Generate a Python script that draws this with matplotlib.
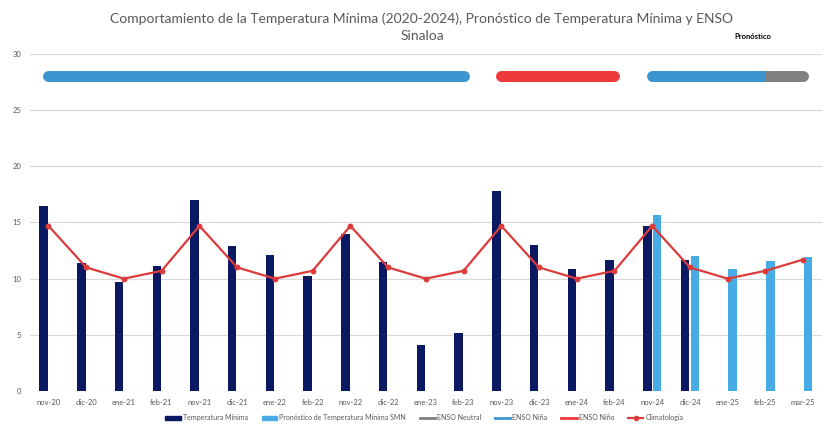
import matplotlib
matplotlib.use("Agg")
import matplotlib.pyplot as plt
from matplotlib.lines import Line2D
from matplotlib.patches import Patch
import numpy as np

months = ["nov-20", "dic-20", "ene-21", "feb-21", "nov-21", "dic-21", "ene-22", "feb-22",
          "nov-22", "dic-22", "ene-23", "feb-23", "nov-23", "dic-23", "ene-24", "feb-24",
          "nov-24", "dic-24", "ene-25", "feb-25", "mar-25"]
# observed minimum temperature (None = no data)
tmin = [16.5, 11.4, 9.7, 11.1, 17.0, 12.9, 12.1, 10.2, 14.0, 11.5, 4.1, 5.2,
        17.8, 13.0, 10.9, 11.7, 14.7, 11.7, None, None, None]
# SMN forecast
forecast = [None] * 16 + [15.7, 12.0, 10.9, 11.6, 11.9]
climatology = [14.7, 11.0, 10.0, 10.7, 14.7, 11.0, 10.0, 10.7, 14.7, 11.0, 10.0, 10.7,
               14.7, 11.0, 10.0, 10.7, 14.7, 11.0, 10.0, 10.7, 11.7]
# ENSO phases as (start index, end index)
enso_nina = [(0, 11)]
enso_nino = [(12, 15)]
enso_nina_fc = (16, 19)
enso_neutral_fc = (19, 20)
enso_level = 28

NAVY = "#0b1862"
LIGHT = "#47ace6"
RED = "#dc3b3b"
NINA = "#3d95cf"
NINO = "#ec3a3a"
NEUTRAL = "#808080"
GRID = "#d9d9d9"
TXT = "#595959"

plt.rcParams["font.family"] = ["Lato", "DejaVu Sans"]

fig = plt.figure(figsize=(8.29, 4.34), dpi=100)
ax = fig.add_axes([0.0357, 0.0991, 0.9559, 0.7765])

x = np.arange(len(months))
w = 0.225
off = 0.13

# grouped bars: observed on the left, forecast on the right
for i in x:
    if tmin[i] is not None:
        ax.bar(i - off, tmin[i], width=w, color=NAVY, zorder=3)
    if forecast[i] is not None:
        ax.bar(i + off, forecast[i], width=w, color=LIGHT, zorder=3)

ax.plot(x, climatology, color=RED, lw=1.6, marker="o", ms=3.2, zorder=4)

lw_enso = 7.9
for s, e in enso_nina:
    ax.plot([s, e], [enso_level] * 2, color=NINA, lw=lw_enso, solid_capstyle="round", zorder=4)
for s, e in enso_nino:
    ax.plot([s, e], [enso_level] * 2, color=NINO, lw=lw_enso, solid_capstyle="round", zorder=4)
# forecast bar: Niña then Neutral, joined
ax.plot(enso_neutral_fc, [enso_level] * 2, color=NEUTRAL, lw=lw_enso,
        solid_capstyle="round", zorder=3)
ax.plot(enso_nina_fc, [enso_level] * 2, color=NINA, lw=lw_enso,
        solid_capstyle="butt", zorder=5)
ax.plot([enso_nina_fc[0], enso_nina_fc[0] + 0.5], [enso_level] * 2, color=NINA, lw=lw_enso,
        solid_capstyle="round", zorder=5)

ax.set_xlim(-0.5, 20.5)
ax.set_ylim(0, 30)
ax.set_yticks(range(0, 31, 5))
ax.set_xticks(x)
ax.set_xticklabels(months)
ax.tick_params(axis="both", length=0, labelsize=5.5, colors=TXT)
ax.tick_params(axis="x", pad=6)
ax.tick_params(axis="y", pad=6)
ax.grid(axis="y", color=GRID, lw=0.8, zorder=0)
for sp in ax.spines.values():
    sp.set_visible(False)

fig.text(0.509, 0.957, "Comportamiento de la Temperatura Mínima (2020-2024), Pronóstico de Temperatura Mínima y ENSO",
         ha="center", va="center", fontsize=10, color=TXT)
fig.text(0.509, 0.918, "Sinaloa", ha="center", va="center", fontsize=10, color=TXT)
fig.text(0.908, 0.917, "Pronóstico", ha="center", va="center", fontsize=5.5,
         fontweight="bold", color="black")

handles = [
    Patch(color=NAVY, label="Temperatura Mínima"),
    Patch(color=LIGHT, label="Pronóstico de Temperatura Mínima SMN"),
    Line2D([], [], color=NEUTRAL, lw=2, label="ENSO Neutral"),
    Line2D([], [], color=NINA, lw=2, label="ENSO Niña"),
    Line2D([], [], color=NINO, lw=2, label="ENSO Niño"),
    Line2D([], [], color=RED, lw=1.6, marker="o", ms=3, label="Climatología"),
]
fig.legend(handles=handles, loc="center", bbox_to_anchor=(0.512, 0.037), ncol=6,
           frameon=False, fontsize=5, handlelength=2.2, handleheight=0.6,
           columnspacing=2.0, handletextpad=0.3, labelcolor=TXT)

fig.savefig("out.png", dpi=100)
